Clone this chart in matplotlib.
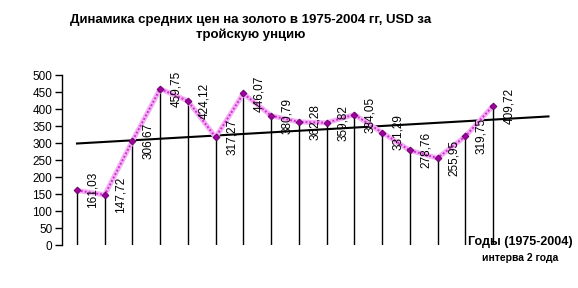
import matplotlib
matplotlib.use("Agg")
import matplotlib.pyplot as plt
import numpy as np

values = [161.03, 147.72, 306.67, 459.75, 424.12, 317.27, 446.07, 380.79,
          362.28, 359.82, 384.05, 331.29, 278.76, 255.95, 319.75, 409.72]
labels = ["161,03", "147,72", "306,67", "459,75", "424,12", "317,27", "446,07", "380,79",
          "362,28", "359,82", "384,05", "331,29", "278,76", "255,95", "319,75", "409,72"]
yticks = [0, 50, 100, 150, 200, 250, 300, 350, 400, 450, 500]
title = "Динамика средних цен на золото в 1975-2004 гг, USD за\nтройскую унцию"
xlabel1 = "Годы (1975-2004)"
xlabel2 = "интерва 2 года"

plt.rcParams['font.family'] = ['Liberation Sans', 'DejaVu Sans']

fig = plt.figure(figsize=(5.78, 2.88), dpi=100)
ax = fig.add_axes([0.1073, 0.149, 0.856, 0.590])

x = np.arange(len(values))
ax.vlines(x, 0, values, color='black', lw=1, zorder=1)

# trend line (linear fit, extended 2 periods forward)
coef = np.polyfit(x, values, 1)
xt = np.array([0, len(values) + 1])
ax.plot(xt, np.polyval(coef, xt), color='black', lw=1.5, zorder=2)

ax.plot(x, values, color='#f4b0f4', lw=3.6, zorder=3, solid_capstyle='butt')
ax.plot(x, values, color='#d030d0', lw=1.4, zorder=4, dashes=(1, 1))
ax.plot(x, values, ls='none', marker='D', ms=3.5, mfc='#a000a0', mec='#600060', mew=0.6, zorder=5)

for xi, v, lab in zip(x, values, labels):
    ax.annotate(lab, (xi, v), xytext=(16, 0), textcoords='offset pixels',
                rotation=90, ha='center', va='center', fontsize=8.5, zorder=6)

ax.set_xlim(-0.54, 17.3)
ax.set_ylim(0, 500)
ax.set_yticks(yticks)
ax.set_xticks([])
ax.tick_params(axis='y', direction='out', length=5, labelsize=8.5, width=1, pad=2)
for s in ['top', 'right', 'bottom']:
    ax.spines[s].set_visible(False)
ax.spines['left'].set_linewidth(1)

fig.text(0.433, 0.95, title, ha='center', va='top', fontsize=9.5, fontweight='bold', linespacing=1.25)
fig.text(0.9, 0.16, xlabel1, ha='center', va='center', fontsize=9, fontweight='bold')
fig.text(0.9, 0.105, xlabel2, ha='center', va='center', fontsize=7.5, fontweight='bold')

fig.savefig("out.png", dpi=100)
